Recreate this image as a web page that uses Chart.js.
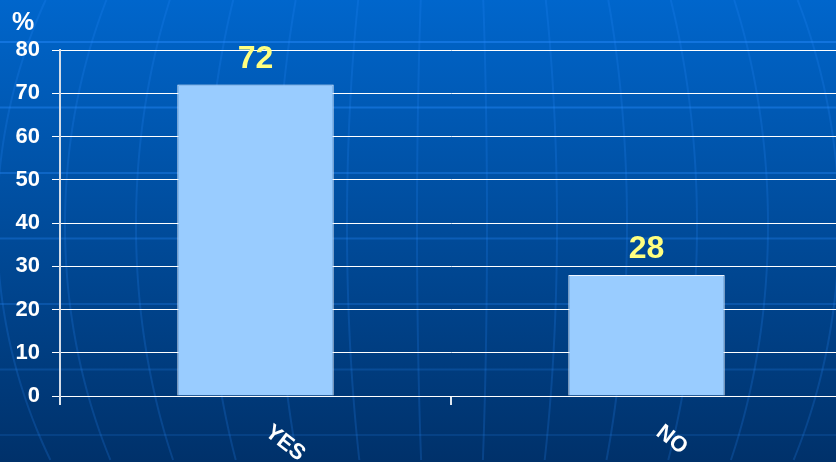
<!DOCTYPE html>
<html>
<head>
<meta charset="utf-8">
<script src="https://cdn.jsdelivr.net/npm/chart.js@4/dist/chart.umd.min.js"></script>
<style>
  html, body { margin: 0; padding: 0; overflow: hidden; background: #004b9a; }
  #wrap { position: relative; width: 846px; height: 462px; }
</style>
</head>
<body>
<div id="wrap"><canvas id="chart"></canvas></div>
<script>
// Survey answers (percent)
const categories = ['YES', 'NO'];
const values = [72, 28];
const yTicks = [0, 10, 20, 30, 40, 50, 60, 70, 80];
const unitLabel = '%';

// Blue "globe" backdrop: vertical gradient, latitude bands and curved meridians
const globeBackground = {
  id: 'globeBackground',
  beforeDraw(chart) {
    const ctx = chart.ctx;
    const w = chart.width, h = chart.height;
    ctx.save();
    const g = ctx.createLinearGradient(0, 0, 0, h);
    g.addColorStop(0, '#0066cc');
    g.addColorStop(0.5, '#004b9a');
    g.addColorStop(1, '#00316a');
    ctx.fillStyle = g;
    ctx.fillRect(0, 0, w, h);

    // latitude bands
    const lats = [42, 107.5, 173, 238.5, 304, 369.5, 435];
    lats.forEach((y, i) => {
      ctx.strokeStyle = 'rgba(40,140,255,' + (0.45 - i * 0.05) + ')';
      ctx.lineWidth = 2;
      ctx.beginPath();
      ctx.moveTo(0, y);
      ctx.lineTo(w, y);
      ctx.stroke();
    });

    // meridians
    const cx = 452, cy = 225, R = 500;
    const offsets = [35, 105, 175, 245, 316, 387, 455];
    ctx.strokeStyle = 'rgba(40,140,255,0.2)';
    ctx.lineWidth = 2;
    offsets.forEach(a => {
      [-1, 1].forEach(s => {
        ctx.beginPath();
        for (let y = 0; y <= h; y += 4) {
          const t = (y - cy) / R;
          const x = cx + s * a * Math.sqrt(Math.max(0, 1 - t * t));
          if (y === 0) ctx.moveTo(x, y); else ctx.lineTo(x, y);
        }
        ctx.stroke();
      });
    });
    ctx.restore();
  }
};

// Value labels above the bars, rotated category labels and the unit sign
const annotations = {
  id: 'annotations',
  afterDatasetsDraw(chart) {
    const ctx = chart.ctx;
    ctx.save();
    const meta = chart.getDatasetMeta(0);
    ctx.fillStyle = '#ffff80';
    ctx.font = 'bold 32px "Liberation Sans", Arial, sans-serif';
    ctx.textAlign = 'center';
    ctx.textBaseline = 'alphabetic';
    meta.data.forEach((bar, i) => {
      ctx.fillText(String(values[i]), bar.x, bar.y - 17);
    });
    ctx.restore();
  },
  afterDraw(chart) {
    const ctx = chart.ctx;
    const xs = chart.scales.x;
    ctx.save();
    ctx.fillStyle = '#ffffff';
    ctx.font = 'bold 22px "Liberation Sans", Arial, sans-serif';
    ctx.textAlign = 'left';
    ctx.textBaseline = 'top';
    categories.forEach((c, i) => {
      const x = xs.getPixelForValue(i) + 19;
      ctx.save();
      ctx.translate(x, 421);
      ctx.rotate(38 * Math.PI / 180);
      ctx.fillText(c, 0, 0);
      ctx.restore();
    });
    ctx.font = 'bold 25px "Liberation Sans", Arial, sans-serif';
    ctx.textBaseline = 'alphabetic';
    ctx.fillText(unitLabel, 12, 30);
    ctx.restore();
  }
};

new Chart(document.getElementById('chart'), {
  type: 'bar',
  data: {
    labels: categories,
    datasets: [{
      data: values,
      backgroundColor: '#99ccff',
      borderColor: '#f0f6ff',
      borderWidth: 1,
      barPercentage: 0.4,
      categoryPercentage: 1.0
    }]
  },
  options: {
    responsive: true,
    maintainAspectRatio: false,
    animation: false,
    layout: { padding: { top: 50, right: 4, left: 0, bottom: 0 } },
    plugins: { legend: { display: false }, tooltip: { enabled: false } },
    scales: {
      x: {
        offset: true,
        grid: {
          offset: true,
          drawOnChartArea: false,
          drawTicks: true,
          tickLength: 9,
          color: '#dfe7f0',
          lineWidth: 2
        },
        border: { display: false },
        ticks: { display: false },
        afterFit(s) { s.height = 66; }
      },
      y: {
        min: 0,
        max: 80,
        afterBuildTicks(s) { s.ticks = yTicks.map(v => ({ value: v })); },
        ticks: {
          color: '#ffffff',
          font: { family: '"Liberation Sans", Arial, sans-serif', size: 22, weight: 'bold' },
          padding: 12
        },
        grid: {
          color: '#ffffff',
          lineWidth: 1,
          drawTicks: true,
          tickLength: 8
        },
        border: { color: '#d5dde8', width: 2 },
        afterFit(s) { s.width = 60; }
      }
    }
  },
  plugins: [globeBackground, annotations]
});
</script>
</body>
</html>
